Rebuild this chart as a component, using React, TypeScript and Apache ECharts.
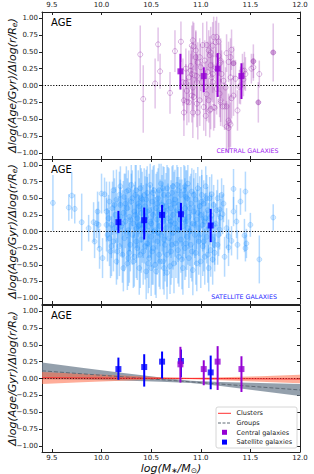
import React, { useEffect, useRef } from 'react';
import * as echarts from 'echarts';

const X_TICKS = [9.5, 10.0, 10.5, 11.0, 11.5, 12.0];
const Y_TICKS = [-1, -0.75, -0.5, -0.25, 0, 0.25, 0.5, 0.75, 1];
const X_MIN = 9.4;
const X_MAX = 12.0;
const Y_MIN = -1.09;
const Y_MAX = 1.09;

// individual central galaxies: [logM, gradient, error, filled]
const CENTRAL = [
  [10.39,0.46,0.43,0],[10.42,-0.20,0.50,0],[10.54,0.03,0.37,0],[10.57,0.61,0.25,0],[10.59,0.21,0.26,0],
  [10.69,-0.11,0.31,0],[10.74,0.51,0.31,0],[10.80,0.65,0.30,0],[10.82,0.05,0.35,0],[10.83,-0.22,0.30,0],
  [10.83,-0.40,0.35,0],[10.85,0.04,0.28,0],[10.85,0.25,0.30,0],[10.86,-0.08,0.33,0],[10.86,-0.24,0.35,0],
  [10.88,-0.25,0.30,0],[10.88,0.12,0.40,0],[10.90,0.29,0.30,0],[10.90,0.22,0.25,0],[10.91,0.59,0.30,0],
  [10.91,0.17,0.35,0],[10.91,-0.15,0.40,0],[10.92,0.67,0.28,0],[10.92,-0.03,0.32,0],[10.92,-0.40,0.38,0],
  [10.93,-0.17,0.30,0],[10.93,0.58,0.35,0],[10.94,0.15,0.30,0],[10.95,0.52,0.30,0],[10.95,0.42,0.38,0],
  [10.96,0.14,0.33,0],[10.96,0.05,0.42,0],[10.96,-0.27,0.35,0],[10.97,0.34,0.30,0],[10.97,-0.40,0.40,0],
  [10.99,-0.22,0.38,0],[10.99,0.42,0.28,0],[11.00,0.27,0.35,0],[11.01,0.05,0.30,0],[11.02,0.60,0.33,0],
  [11.03,-0.32,0.35,0],[11.04,0.37,0.30,0],[11.05,-0.02,0.38,0],[11.05,-0.45,0.30,0],[11.06,0.60,0.35,0],
  [11.06,-0.13,0.40,0],[11.07,0.20,0.45,0],[11.08,0.52,0.30,0],[11.08,-0.22,0.33,0],[11.09,0.45,0.28,0],
  [11.09,-0.37,0.40,0],[11.10,0.30,0.35,0],[11.10,0.49,0.38,0],[11.10,-0.35,0.30,0],[11.11,0.12,0.33,0],
  [11.12,0.59,0.35,0],[11.12,0.05,0.30,0],[11.12,0.17,0.28,0],[11.13,0.72,0.30,0],[11.13,-0.32,0.35,0],
  [11.14,-0.33,0.30,0],[11.15,0.64,0.32,0],[11.15,0.27,0.30,0],[11.16,0.72,0.30,0],[11.16,-0.05,0.38,0],
  [11.18,0.65,0.28,0],[11.18,0.44,0.30,0],[11.19,-0.12,0.35,0],[11.20,0.37,0.33,0],[11.20,0.34,0.28,0],
  [11.20,-0.22,0.32,0],[11.20,-0.25,0.35,0],[11.21,0.17,0.35,0],[11.22,-0.31,0.30,0],[11.23,0.07,0.30,0],
  [11.24,-0.31,0.35,0],[11.25,-0.03,0.30,0],[11.26,0.48,0.28,0],[11.26,-0.31,0.33,0],[11.26,-0.61,0.38,0],
  [11.28,0.35,0.30,0],[11.28,-0.52,0.40,0],[11.28,-0.63,0.35,0],[11.29,-0.55,0.40,0],[11.30,0.12,0.35,0],
  [11.30,0.42,0.28,0],[11.30,-0.58,0.33,0],[11.31,0.53,0.30,0],[11.31,-0.19,0.30,0],[11.33,0.33,0.25,1],
  [11.33,-0.15,0.30,0],[11.35,0.10,0.28,0],[11.37,-0.37,0.30,0],[11.39,-0.02,0.25,0],[11.40,0.00,0.28,0],
  [11.42,0.22,0.25,0],[11.43,0.09,0.25,0],[11.44,0.22,0.28,0],[11.45,0.17,0.25,0],[11.51,0.25,0.22,0],
  [11.53,0.36,0.25,1],[11.53,0.27,0.20,0],[11.58,-0.25,0.30,1],[11.59,0.17,0.20,0],[11.73,0.49,0.43,1],
];

// individual satellite galaxies: [logM, gradient, error]
const SATELLITE = [
  [9.51,0.43,0.42],[9.67,0.36,0.20],[9.70,0.54,0.35],[9.73,0.34,0.22],[9.80,0.14,0.43],
  [9.87,0.05,0.20],[9.92,0.14,0.30],[9.93,-0.15,0.25],[9.95,0.12,0.22],[9.97,0.10,0.35],[9.98,-0.26,0.30],[10.00,0.57,0.30],
  [10.03,0.56,0.25],[10.05,0.30,0.45],[10.06,-0.05,0.40],[10.07,0.20,0.35],[10.08,0.45,0.30],[10.09,-0.30,0.40],
  [10.10,0.10,0.50],[10.11,0.35,0.40],[10.12,-0.15,0.45],[10.12,0.62,0.30],[10.13,0.05,0.38],[10.14,0.25,0.42],
  [10.15,-0.45,0.35],[10.15,0.48,0.45],[10.16,0.00,0.50],[10.17,0.18,0.35],[10.18,-0.22,0.45],[10.19,0.40,0.38],
  [10.19,0.68,0.30],[10.20,0.08,0.45],
  [10.21,-0.35,0.42],[10.22,0.28,0.48],[10.23,0.52,0.35],[10.23,-0.10,0.50],[10.24,0.15,0.40],[10.25,0.60,0.38],
  [10.26,-0.48,0.40],[10.26,0.35,0.45],[10.27,0.02,0.48],[10.28,0.22,0.52],[10.29,-0.20,0.40],[10.30,0.45,0.42],
  [10.30,0.70,0.30],[10.31,-0.05,0.45],[10.32,0.12,0.50],[10.33,-0.38,0.45],[10.33,0.30,0.40],[10.34,0.55,0.45],
  [10.35,0.05,0.52],[10.36,-0.25,0.48],[10.36,0.20,0.45],[10.37,0.42,0.50],[10.38,-0.55,0.40],[10.38,0.10,0.45],
  [10.39,0.65,0.35],[10.40,-0.12,0.50],[10.40,0.28,0.45],
  [10.41,0.48,0.42],[10.42,-0.30,0.50],[10.42,0.15,0.55],[10.43,0.00,0.48],[10.44,0.38,0.45],[10.45,-0.60,0.42],
  [10.45,0.22,0.50],[10.46,0.58,0.40],[10.46,-0.18,0.52],[10.47,0.08,0.48],[10.48,0.32,0.55],[10.48,-0.40,0.45],
  [10.49,0.70,0.32],[10.50,0.12,0.50],[10.50,-0.08,0.45],[10.51,0.45,0.48],[10.52,-0.25,0.55],[10.52,0.25,0.42],
  [10.53,0.62,0.38],[10.54,0.02,0.50],[10.54,-0.50,0.45],[10.55,0.35,0.52],[10.56,0.18,0.45],[10.56,-0.15,0.50],
  [10.57,0.50,0.45],[10.58,-0.35,0.48],[10.58,0.08,0.55],[10.59,0.28,0.50],[10.60,0.72,0.30],[10.60,-0.05,0.52],
  [10.61,0.40,0.45],[10.62,-0.45,0.42],[10.62,0.15,0.50],[10.63,0.55,0.42],[10.64,-0.20,0.55],[10.64,0.30,0.48],
  [10.65,0.05,0.50],[10.66,0.65,0.35],[10.66,-0.62,0.40],[10.67,0.20,0.52],[10.68,-0.10,0.48],[10.68,0.45,0.50],
  [10.69,0.10,0.45],[10.70,-0.30,0.50],[10.70,0.35,0.42],[10.71,0.58,0.40],[10.72,-0.02,0.55],[10.72,0.25,0.48],
  [10.73,-0.48,0.45],[10.74,0.12,0.50],[10.74,0.48,0.45],[10.75,-0.18,0.52],[10.76,0.70,0.30],[10.76,0.32,0.50],
  [10.77,0.02,0.48],[10.78,-0.38,0.45],[10.78,0.40,0.42],[10.79,0.18,0.55],[10.80,-0.12,0.50],[10.80,0.55,0.42],
  [10.81,0.28,0.50],[10.82,-0.55,0.40],[10.82,0.08,0.52],[10.83,0.62,0.38],[10.84,-0.25,0.48],[10.84,0.35,0.45],
  [10.85,0.15,0.55],[10.86,-0.08,0.50],[10.86,0.50,0.42],[10.87,0.72,0.28],[10.88,-0.40,0.45],[10.88,0.22,0.48],
  [10.89,0.00,0.52],[10.90,0.42,0.45],[10.90,-0.20,0.50],[10.91,0.60,0.35],[10.92,0.12,0.48],[10.92,-0.58,0.38],
  [10.93,0.30,0.50],[10.94,-0.05,0.45],[10.95,0.48,0.40],[10.95,-0.32,0.48],[10.96,0.18,0.45],[10.97,0.65,0.32],
  [10.98,-0.15,0.50],[10.98,0.05,0.42],[10.99,0.38,0.45],[11.00,-0.45,0.40],[11.00,0.25,0.42],
  [11.01,0.55,0.38],[11.02,-0.22,0.45],[11.02,0.10,0.40],[11.03,0.42,0.35],[11.04,-0.38,0.42],[11.05,0.20,0.38],
  [11.05,0.68,0.30],[11.06,-0.08,0.40],[11.07,0.32,0.35],[11.08,-0.55,0.35],[11.08,0.05,0.38],[11.09,0.50,0.32],
  [11.10,-0.28,0.40],[11.11,0.56,0.30],[11.11,0.24,0.32],[11.12,-0.12,0.35],[11.13,0.40,0.30],[11.14,-0.20,0.30],
  [11.14,-0.32,0.28],[11.15,0.12,0.30],[11.17,0.50,0.28],[11.17,-0.20,0.30],[11.19,0.33,0.25],[11.19,0.03,0.30],
  [11.20,0.21,0.28],
  [11.21,0.55,0.25],[11.22,0.26,0.30],[11.24,-0.38,0.30],[11.28,-0.07,0.25],[11.28,-0.24,0.28],[11.31,-0.14,0.22],
  [11.33,0.64,0.30],[11.33,0.30,0.22],[11.36,0.15,0.25],[11.37,-0.20,0.22],[11.40,0.45,0.20],[11.44,-0.06,0.25],
  [11.45,0.60,0.30],[11.45,-0.25,0.20],[11.46,-0.18,0.22],[11.50,0.10,0.18],[11.59,-0.42,0.36],[11.73,0.21,0.20],
  [10.10,-0.22,0.45],[10.13,0.40,0.40],[10.16,-0.30,0.42],[10.18,0.55,0.35],[10.21,0.12,0.50],[10.22,-0.55,0.35],
  [10.24,0.42,0.45],[10.25,-0.02,0.52],[10.27,0.62,0.30],[10.28,-0.32,0.45],[10.29,0.18,0.48],[10.31,0.50,0.42],
  [10.32,-0.45,0.40],[10.34,0.25,0.50],[10.35,-0.15,0.55],[10.37,0.08,0.48],[10.38,0.38,0.42],[10.39,-0.35,0.50],
  [10.41,0.05,0.52],[10.43,0.55,0.40],[10.44,-0.22,0.50],[10.46,0.30,0.52],[10.47,-0.48,0.45],[10.49,0.15,0.55],
  [10.51,-0.30,0.50],[10.52,0.58,0.40],[10.53,0.00,0.55],[10.55,-0.60,0.40],[10.56,0.42,0.48],[10.57,-0.02,0.55],
  [10.59,-0.45,0.42],[10.61,0.22,0.52],[10.62,0.65,0.33],[10.63,-0.12,0.55],[10.65,0.38,0.50],[10.66,-0.35,0.48],
  [10.67,0.55,0.42],[10.69,-0.52,0.42],[10.70,0.15,0.55],[10.71,-0.20,0.50],[10.73,0.42,0.48],[10.75,0.05,0.55],
  [10.77,0.62,0.35],[10.77,-0.28,0.50],[10.79,0.30,0.48],[10.81,-0.42,0.45],[10.83,0.18,0.52],[10.85,0.52,0.40],
  [10.85,-0.18,0.50],[10.87,0.05,0.55],[10.89,0.35,0.48],[10.91,-0.30,0.45],[10.93,0.55,0.38],[10.94,0.10,0.50],
  [10.96,-0.48,0.42],[10.97,0.28,0.45],[10.99,-0.05,0.48],[11.01,0.45,0.40],[11.03,-0.15,0.45],[11.04,0.15,0.42],
  [11.06,0.50,0.35],[11.07,-0.35,0.42],[11.09,0.20,0.40],[11.12,-0.42,0.38],[11.13,0.10,0.35],[11.16,0.32,0.30],
  [11.18,-0.05,0.32],[11.23,0.42,0.28],[11.26,0.05,0.30],[10.58,0.62,0.40],[10.45,0.48,0.45],[10.35,0.62,0.38],
  [10.72,0.68,0.32],[10.84,0.68,0.30],[10.63,-0.55,0.40],[10.50,-0.55,0.42],[10.40,0.50,0.45],[10.27,-0.40,0.42],
  [10.19,0.22,0.45],[10.05,0.10,0.40],[10.01,-0.40,0.30],[9.96,0.30,0.30],[10.08,-0.10,0.42],
];

// binned medians: [logM, median, lower, upper]
const CENTRAL_MEDIANS = [
  [10.795, 0.21, -0.06, 0.47],
  [11.03, 0.14, -0.10, 0.27],
  [11.17, 0.25, -0.17, 0.48],
  [11.41, 0.14, -0.20, 0.33],
];
const SATELLITE_MEDIANS = [
  [10.17, 0.14, -0.02, 0.31],
  [10.43, 0.17, -0.12, 0.36],
  [10.61, 0.25, 0.0, 0.40],
  [10.80, 0.26, 0.02, 0.43],
  [11.10, 0.09, -0.16, 0.34],
];

// fits (Groups / Clusters) and their confidence bands
const BAND_X = [9.4, 9.8, 10.2, 10.6, 10.9, 11.2, 11.6, 12.0];
const GROUPS_UP = [0.239, 0.16, 0.085, 0.013, -0.032, -0.052, -0.068, -0.082];
const GROUPS_LO = [-0.011, -0.02, -0.031, -0.047, -0.068, -0.112, -0.184, -0.258];
const GROUPS_FIT = [[9.4, 0.114], [12.0, -0.17]];
const CLUSTERS_UP = [0.095, 0.07, 0.045, 0.02, 0.012, 0.018, 0.035, 0.055];
const CLUSTERS_LO = [-0.08, -0.055, -0.032, -0.012, -0.01, -0.025, -0.05, -0.072];
const CLUSTERS_FIT = [[9.4, 0.012], [12.0, -0.008]];
const ZERO_LINE = [[9.4, 0], [12.0, 0]];

const FONT = 'DejaVu Sans';
const GRID_LEFT = 42;
const GRID_WIDTH = 258;
const PANELS = [
  { top: 12, height: 147 },
  { top: 159, height: 145 },
  { top: 305, height: 147 },
];

const C_PURPLE = '#9400d3';
const C_BLUE = '#0000ff';

function fmtY(v: number) {
  const s = Math.abs(v).toFixed(2);
  return v < -1e-9 ? '\u2212' + s : s;
}

export default function App() {
  const ref = useRef<HTMLDivElement>(null);
  useEffect(() => {
    if (!ref.current) return;
    const chart = echarts.init(ref.current, undefined, { renderer: 'svg' });

    const grid = PANELS.map((p) => ({ left: GRID_LEFT, width: GRID_WIDTH, top: p.top, height: p.height }));
    const axisLine = { show: true, onZero: false, lineStyle: { color: '#222', width: 1 } };
    const xAxis: any[] = [];
    const yAxis: any[] = [];
    PANELS.forEach((_, i) => {
      ['bottom', 'top'].forEach((pos) => {
        const showLabel = (pos === 'bottom' && i === 2) || (pos === 'top' && i === 0);
        xAxis.push({
          type: 'value', gridIndex: i, position: pos, min: X_MIN, max: X_MAX,
          axisLine,
          splitLine: { show: false },
          axisTick: { show: true, inside: true, length: 3, customValues: X_TICKS, lineStyle: { color: '#222' } },
          axisLabel: {
            show: showLabel, customValues: X_TICKS, margin: pos === 'bottom' ? 2 : 3, fontSize: 7, lineHeight: 8,
            fontFamily: FONT, color: '#222',
            formatter: (v: number) => v.toFixed(1),
          },
        });
      });
      ['left', 'right'].forEach((pos) => {
        yAxis.push({
          type: 'value', gridIndex: i, position: pos, min: Y_MIN, max: Y_MAX,
          axisLine,
          splitLine: { show: false },
          axisTick: { show: true, inside: pos === 'right', length: 3, customValues: Y_TICKS, lineStyle: { color: '#222' } },
          axisLabel: {
            show: pos === 'left', customValues: Y_TICKS, margin: 4, fontSize: 7, fontFamily: FONT, color: '#222',
            formatter: fmtY,
          },
        });
      });
    });

    const clampY = (v: number) => Math.max(Y_MIN, Math.min(Y_MAX, v));

    const errBars = (data: number[][], panel: number, color: string, width: number, asym: boolean, z: number) => ({
      type: 'custom', xAxisIndex: panel * 2, yAxisIndex: panel * 2, data, z,
      encode: { x: 0, y: 1 },
      renderItem: (params: any, api: any) => {
        const x = api.value(0);
        const y = api.value(1);
        const lo = asym ? api.value(2) : y - api.value(2);
        const hi = asym ? api.value(3) : y + api.value(2);
        const a = api.coord([x, clampY(hi)]);
        const b = api.coord([x, clampY(lo)]);
        return { type: 'line', shape: { x1: a[0], y1: a[1], x2: b[0], y2: b[1] }, style: { stroke: color, lineWidth: width } };
      },
    });

    const band = (up: number[], lo: number[], fill: string, z: number) => ({
      type: 'custom', xAxisIndex: 4, yAxisIndex: 4, z,
      data: BAND_X.map((x, i) => [x, lo[i], up[i]]),
      encode: { x: 0, y: [1, 2] },
      renderItem: (params: any, api: any) => {
        if (params.dataIndex !== 0) return null;
        const top = BAND_X.map((x, i) => api.coord([x, up[i]]));
        const bot = BAND_X.map((x, i) => api.coord([x, lo[i]])).reverse();
        return { type: 'polygon', shape: { points: top.concat(bot) }, style: { fill } };
      },
    });

    const zero = (panel: number) => ({
      type: 'line', xAxisIndex: panel * 2, yAxisIndex: panel * 2, data: ZERO_LINE, symbol: 'none', z: 6,
      lineStyle: { color: '#000', width: 1.1, type: [1.2, 1.6] }, silent: true,
    });

    const centralHollow = CENTRAL.filter((d) => d[3] === 0).map((d) => [d[0], d[1]]);
    const centralFilled = CENTRAL.filter((d) => d[3] === 1).map((d) => [d[0], d[1]]);

    const series: any[] = [
      // panel 1: centrals
      errBars(CENTRAL, 0, 'rgba(165, 70, 185, 0.32)', 1.5, false, 2),
      { type: 'scatter', xAxisIndex: 0, yAxisIndex: 0, data: centralHollow, symbol: 'circle', symbolSize: 5, z: 3,
        itemStyle: { color: 'rgba(255,255,255,0)', borderColor: 'rgba(150, 50, 170, 0.5)', borderWidth: 0.9 } },
      { type: 'scatter', xAxisIndex: 0, yAxisIndex: 0, data: centralFilled, symbol: 'circle', symbolSize: 5, z: 3,
        itemStyle: { color: 'rgba(150, 50, 170, 0.55)', borderColor: 'rgba(150, 50, 170, 0.6)', borderWidth: 0.8 } },
      zero(0),
      errBars(CENTRAL_MEDIANS, 0, C_PURPLE, 2, true, 7),
      { type: 'scatter', xAxisIndex: 0, yAxisIndex: 0, data: CENTRAL_MEDIANS.map((d) => [d[0], d[1]]), symbol: 'rect', symbolSize: 6, z: 8,
        itemStyle: { color: C_PURPLE } },

      // panel 2: satellites
      errBars(SATELLITE, 1, 'rgba(30, 144, 255, 0.33)', 1.5, false, 2),
      { type: 'scatter', xAxisIndex: 2, yAxisIndex: 2, data: SATELLITE.map((d) => [d[0], d[1]]), symbol: 'circle', symbolSize: 5, z: 3,
        itemStyle: { color: 'rgba(30, 144, 255, 0.22)', borderColor: 'rgba(30, 144, 255, 0.35)', borderWidth: 0.8 } },
      zero(1),
      errBars(SATELLITE_MEDIANS, 1, C_BLUE, 2, true, 7),
      { type: 'scatter', xAxisIndex: 2, yAxisIndex: 2, data: SATELLITE_MEDIANS.map((d) => [d[0], d[1]]), symbol: 'rect', symbolSize: 6, z: 8,
        itemStyle: { color: C_BLUE } },

      // panel 3: fits and medians
      band(GROUPS_UP, GROUPS_LO, 'rgba(112, 128, 144, 0.75)', 1),
      band(CLUSTERS_UP, CLUSTERS_LO, 'rgba(255, 105, 70, 0.55)', 2),
      { type: 'line', xAxisIndex: 4, yAxisIndex: 4, data: GROUPS_FIT, symbol: 'none', z: 4,
        lineStyle: { color: '#5f6a75', width: 1, type: [4, 2] } },
      zero(2),
      { type: 'line', xAxisIndex: 4, yAxisIndex: 4, data: CLUSTERS_FIT, symbol: 'none', z: 7,
        lineStyle: { color: '#ff3030', width: 1 } },
      errBars(SATELLITE_MEDIANS, 2, C_BLUE, 2, true, 8),
      { type: 'scatter', xAxisIndex: 4, yAxisIndex: 4, data: SATELLITE_MEDIANS.map((d) => [d[0], d[1]]), symbol: 'rect', symbolSize: 6, z: 9,
        itemStyle: { color: C_BLUE } },
      errBars(CENTRAL_MEDIANS, 2, C_PURPLE, 2, true, 10),
      { type: 'scatter', xAxisIndex: 4, yAxisIndex: 4, data: CENTRAL_MEDIANS.map((d) => [d[0], d[1]]), symbol: 'rect', symbolSize: 6, z: 11,
        itemStyle: { color: C_PURPLE } },
    ];

    const yTitle = (cy: number) => ({
      type: 'text', x: 12, y: cy, rotation: Math.PI / 2, z: 20,
      style: {
        text: '{i|\u0394log(Age/Gyr)/\u0394log(r/R}{s|e}{i|)}',
        align: 'center', verticalAlign: 'middle',
        rich: {
          i: { fontSize: 11, fontStyle: 'italic', fontFamily: FONT, fill: '#111' },
          s: { fontSize: 7.5, fontStyle: 'italic', fontFamily: FONT, fill: '#111', padding: [5, 0, 0, 0] },
        },
      },
    });
    const ageLabel = (top: number) => ({
      type: 'text', x: 51, y: top + 10, z: 20,
      style: { text: 'AGE', fontSize: 10, fontFamily: FONT, fill: '#000', verticalAlign: 'middle' },
    });

    const LX = 216, LY = 407;
    const graphic: any[] = [
      ...PANELS.map((p) => yTitle(p.top + p.height / 2)),
      ...PANELS.map((p) => ageLabel(p.top)),
      { type: 'text', x: 247.5, y: 150, z: 20,
        style: { text: 'CENTRAL GALAXIES', fontSize: 6.3, fontFamily: FONT, fill: '#a020f0', align: 'center', verticalAlign: 'middle' } },
      { type: 'text', x: 244, y: 296, z: 20,
        style: { text: 'SATELLITE GALAXIES', fontSize: 6.3, fontFamily: FONT, fill: '#2222ff', align: 'center', verticalAlign: 'middle' } },
      { type: 'text', x: 171, y: 468.5, z: 20,
        style: {
          text: '{i|log(M}{s|\u2217}{i|/M}{s|\u2299}{i|)}', align: 'center', verticalAlign: 'middle',
          rich: {
            i: { fontSize: 11, lineHeight: 11, fontStyle: 'italic', fontFamily: FONT, fill: '#111' },
            s: { fontSize: 7.5, lineHeight: 11, fontFamily: FONT, fill: '#111', padding: [4, 0, 0, 0] },
          },
        } },
      // legend
      { type: 'rect', z: 30, shape: { x: LX, y: LY, width: 81, height: 41, r: 2 },
        style: { fill: 'rgba(255,255,255,0.85)', stroke: '#cccccc', lineWidth: 0.8 } },
      { type: 'line', z: 31, shape: { x1: LX + 2, y1: LY + 6.3, x2: LX + 15, y2: LY + 6.3 }, style: { stroke: '#ff3030', lineWidth: 1 } },
      { type: 'line', z: 31, shape: { x1: LX + 2, y1: LY + 16, x2: LX + 15, y2: LY + 16 }, style: { stroke: '#5f6a75', lineWidth: 1, lineDash: [3, 1.5] } },
      { type: 'rect', z: 31, shape: { x: LX + 6, y: LY + 22.8, width: 5, height: 5 }, style: { fill: C_PURPLE } },
      { type: 'rect', z: 31, shape: { x: LX + 6, y: LY + 32.6, width: 5, height: 5 }, style: { fill: C_BLUE } },
      ...['Clusters', 'Groups', 'Central galaxies', 'Satellite galaxies'].map((t, k) => ({
        type: 'text', z: 31, x: LX + 20.5, y: LY + 6.3 + k * 9.7,
        style: { text: t, fontSize: 6.5, fontFamily: FONT, fill: '#222', verticalAlign: 'middle' },
      })),
    ];

    chart.setOption({
      animation: false,
      backgroundColor: '#fff',
      grid, xAxis, yAxis, series, graphic,
    });
    return () => chart.dispose();
  }, []);
  return <div ref={ref} style={{ position: 'absolute', left: 0, top: 0, width: 314, height: 474 }} />;
}
